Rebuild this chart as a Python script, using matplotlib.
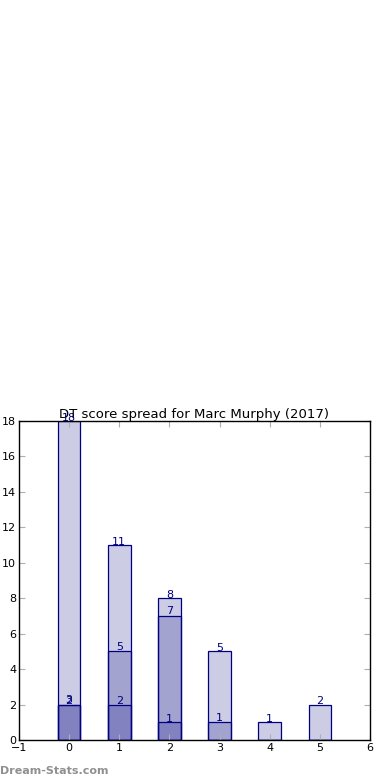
import numpy as np
import matplotlib.pyplot as plt

# score buckets and counts per layer (bars overlap, not stacked)
buckets = [0, 1, 2, 3, 4, 5]
light = [18, 11, 8, 5, 1, 2]
medium = [2, 5, 7, 1, 0, 0]
dark = [2, 2, 1, 0, 0, 0]
light_labels = ['18', '11', '8', '5', '1', '2']
medium_labels = ['3', '5', '7', '1', '', '']
dark_labels = ['2', '2', '1', '', '', '']

fig = plt.figure(figsize=(3.9, 7.8), dpi=100)
ax = fig.add_axes([0.0487, 0.0513, 0.9, 0.4090])

for vals, labs, dy in [(light, light_labels, -0.1), (medium, medium_labels, -0.02), (dark, dark_labels, -0.1)]:
    ax.bar(buckets, vals, width=0.45, color='navy', alpha=0.2, edgecolor='none')
    ax.bar(buckets, vals, width=0.45, fill=False, edgecolor='navy', linewidth=0.9)
    for x, v, t in zip(buckets, vals, labs):
        if t:
            ax.text(x, v + dy, t, ha='center', va='bottom', color='navy', fontsize=8)

ax.set_xlim(-1, 6)
ax.set_ylim(0, 18)
ax.set_xticks(range(-1, 7))
ax.set_yticks(range(0, 19, 2))
ax.tick_params(direction='in', length=4, color='#b0b0b0', labelsize=8, top=True, right=True, pad=2)
for s in ax.spines.values():
    s.set_linewidth(1)
ax.set_title('DT score spread for Marc Murphy (2017)', fontsize=9.5, pad=2)

fig.text(0.0, 0.005, 'Dream-Stats.com', color='#909090', fontsize=8, fontweight='bold', ha='left', va='bottom')

fig.savefig('out.png', dpi=100)
